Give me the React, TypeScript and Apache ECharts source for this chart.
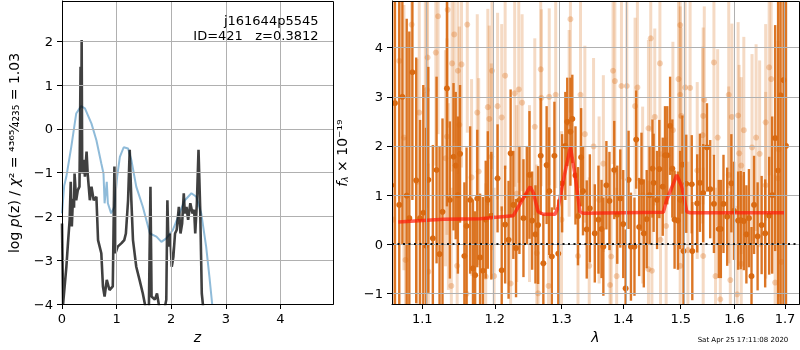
import React, { useEffect, useRef } from 'react';
import * as echarts from 'echarts';

// ---- Left panel: redshift PDF ----
const zTicks = [0, 1, 2, 3, 4];
const lnpTicks = [-4, -3, -2, -1, 0, 1, 2];

// chi2-based curve (light blue)  [z, value]
const chi2Curve = [
  [0, -1.93], [0.04, -1.3], [0.08, -1.09], [0.17, -0.41], [0.26, 0.35], [0.35, 0.52], [0.42, 0.47],
  [0.54, 0.12], [0.63, -0.26], [0.72, -0.79], [0.76, -1.02], [0.78, -1.7], [0.82, -1.21], [0.84, -1.7],
  [0.9, -1.93], [0.96, -1.78], [1.01, -1.09], [1.06, -0.64], [1.13, -0.42], [1.21, -0.45], [1.27, -0.71],
  [1.36, -1.32], [1.48, -1.78], [1.61, -2.39], [1.73, -2.46], [1.82, -2.58], [1.91, -2.5], [2.03, -2.31],
  [2.15, -1.93], [2.25, -1.63], [2.37, -1.47], [2.46, -1.55], [2.55, -1.93], [2.64, -2.69], [2.7, -3.38],
  [2.75, -4.0], [2.8, -4.8],
];

// log p(z) (dark grey)  [z, value]
const logPz = [
  [0, -2.16], [0.02, -4.0], [0.08, -3.15], [0.11, -2.6], [0.14, -2.08], [0.16, -1.21], [0.18, -2.23], [0.2, -1.6],
  [0.22, -1.8], [0.23, -1.02], [0.26, -1.63], [0.29, -1.4], [0.32, -1.32], [0.34, 1.42], [0.35, -0.9], [0.36, 2.03],
  [0.37, -1.02], [0.4, -0.71], [0.42, -1.09], [0.45, -0.52], [0.47, -1.02], [0.51, -1.63], [0.54, -1.32],
  [0.58, -1.63], [0.63, -1.55], [0.66, -2.54], [0.72, -2.84], [0.75, -3.6], [0.78, -3.83], [0.82, -3.45],
  [0.87, -3.68], [0.93, -3.6], [0.96, -0.86], [0.98, -2.84], [1.02, -2.69], [1.09, -2.61], [1.14, -2.54],
  [1.17, -2.39], [1.21, -1.63], [1.24, -0.48], [1.27, -1.63], [1.3, -2.54], [1.36, -3.15], [1.42, -3.45],
  [1.48, -3.76], [1.54, -4.14], [1.59, -4.2], [1.62, -1.32], [1.64, -3.83], [1.7, -3.9], [1.74, -3.76],
  [1.79, -4.14], [1.85, -4.3], [1.91, -3.9], [1.93, -1.63], [1.95, -2.69], [1.98, -2.39], [2.01, -3.15],
  [2.04, -2.92], [2.07, -2.39], [2.1, -2.31], [2.14, -1.78], [2.17, -2.39], [2.2, -2.16], [2.23, -1.47],
  [2.25, -1.93], [2.28, -1.78], [2.31, -2.08], [2.35, -1.7], [2.39, -1.93], [2.42, -1.85], [2.44, -2.39],
  [2.47, -1.7], [2.5, -0.48], [2.53, -1.78], [2.56, -3.76], [2.58, -4.0], [2.62, -5.0],
];

// ---- Right panel: spectrum ----
const lamTicks = [1.1, 1.2, 1.3, 1.4, 1.5, 1.6, 1.7];
const fluxTicks = [-1, 0, 1, 2, 3, 4];

// dark points [lambda, flux, err]
const specDark = [
  [1.06, 1.2, 6.0], [1.0645, 2.87, 4.5], [1.07, 0.8, 5.5], [1.074, 3.0, 3.0], [1.0796, 0.99, 3.6],
  [1.083, 0.53, 3.8], [1.087, 3.5, 2.6], [1.092, 1.3, 2.5], [1.097, 0.53, 2.0], [1.1013, 0.64, 2.6],
  [1.105, -0.03, 2.4], [1.108, 1.31, 2.3], [1.114, 0.12, 1.9], [1.119, 1.51, 1.9], [1.123, -0.2, 2.2],
  [1.127, 0.66, 1.9], [1.133, 3.17, 2.4], [1.137, 0.9, 1.6], [1.142, 1.78, 1.5], [1.145, 1.6, 1.5],
  [1.148, 1.0, 1.6], [1.151, 1.84, 1.4], [1.157, -0.24, 1.5], [1.16, 0.37, 1.6], [1.165, 0.9, 1.5],
  [1.169, -0.49, 1.4], [1.172, -0.63, 1.3], [1.175, 0.93, 1.4], [1.179, -0.27, 1.3], [1.183, -0.54, 1.5],
  [1.187, 0.5, 1.2], [1.19, 0.9, 1.4], [1.195, 0.58, 1.3], [1.204, 1.34, 1.1], [1.21, -0.53, 1.3],
  [1.215, 0.4, 1.2], [1.22, 0.09, 1.2], [1.223, 1.85, 1.3], [1.227, 0.8, 1.1], [1.231, -0.08, 1.0],
  [1.236, 0.9, 1.1], [1.242, 0.53, 1.2], [1.247, 1.0, 1.0], [1.251, 1.41, 1.3], [1.255, 0.48, 1.0],
  [1.26, 0.2, 1.0], [1.264, 0.39, 1.2], [1.268, 1.8, 1.2], [1.272, -0.39, 1.0], [1.277, 1.61, 1.2],
  [1.281, 1.08, 1.3], [1.285, -0.25, 1.0], [1.289, 1.8, 1.1], [1.295, -0.19, 1.1], [1.301, 1.24, 1.0],
  [1.306, 2.0, 1.1], [1.309, 2.49, 0.9], [1.314, 2.29, 1.1], [1.317, 2.55, 0.9], [1.322, 1.4, 1.0],
  [1.326, 0.57, 1.0], [1.331, 1.77, 1.0], [1.334, 1.08, 0.9], [1.34, 0.3, 1.0], [1.345, 0.73, 1.1],
  [1.353, 0.22, 1.0], [1.359, 0.5, 1.1], [1.364, 0.31, 1.0], [1.367, -0.05, 1.0], [1.372, 1.2, 0.9],
  [1.377, 0.88, 1.0], [1.385, 1.51, 1.0], [1.39, 0.6, 1.0], [1.395, 0.93, 1.0], [1.4, 0.41, 1.1],
  [1.404, -0.9, 1.2], [1.409, 1.31, 1.0], [1.413, -0.05, 1.1], [1.419, -0.05, 1.0], [1.422, 2.13, 1.0],
  [1.427, 0.35, 1.0], [1.431, 1.27, 1.0], [1.435, 0.22, 1.1], [1.44, 0.51, 1.0], [1.445, 1.0, 1.0],
  [1.45, 1.54, 1.0], [1.452, 1.25, 1.0], [1.458, 0.9, 1.0], [1.462, 1.53, 1.0], [1.468, 1.17, 1.0],
  [1.472, 1.81, 1.0], [1.476, 1.81, 1.0], [1.481, 2.41, 1.0], [1.485, 1.54, 1.0], [1.489, 0.5, 1.0],
  [1.495, 0.48, 1.0], [1.499, 0.9, 1.0], [1.503, 1.62, 1.0], [1.505, -0.14, 1.1], [1.51, 1.23, 1.0],
  [1.52, 1.22, 1.0], [1.521, -0.14, 1.0], [1.53, 0.83, 1.0], [1.535, 1.25, 1.0], [1.541, 1.04, 1.0],
  [1.548, 1.97, 0.9], [1.554, 1.12, 1.0], [1.561, 0.82, 1.0], [1.57, 0.31, 1.0], [1.574, 0.31, 1.0],
  [1.579, 0.82, 1.0], [1.586, 0.56, 1.0], [1.594, 1.24, 1.0], [1.599, 0.68, 1.0], [1.607, 0.48, 1.0],
  [1.612, 0.49, 1.0], [1.618, 0.47, 1.0], [1.623, 0.2, 1.0], [1.628, 0.53, 1.0], [1.633, -0.65, 1.0],
  [1.638, 0.8, 1.0], [1.645, 0.16, 1.1], [1.653, 0.39, 1.0], [1.66, 0.22, 1.1], [1.668, 0.58, 1.2],
  [1.674, 1.0, 1.6], [1.68, 2.16, 2.3], [1.686, 1.5, 4.0], [1.691, 3.03, 5.0], [1.697, 3.34, 6.0],
  [1.702, 2.0, 7.0],
];

// faint points [lambda, flux, err]
const specLight = [
  [1.062, 0.5, 5.0], [1.07, 3.73, 2.8], [1.076, 2.17, 2.7], [1.078, -0.32, 2.5], [1.086, 4.47, 2.5],
  [1.093, 1.27, 2.5], [1.096, 2.68, 2.6], [1.104, 3.04, 2.4], [1.106, 3.14, 2.4], [1.107, 3.8, 2.2],
  [1.108, -0.56, 2.2], [1.118, 3.9, 2.3], [1.121, 4.64, 2.4], [1.131, 1.75, 2.2], [1.133, 2.19, 2.0],
  [1.134, 4.77, 2.4], [1.135, 0.97, 1.9], [1.139, -0.85, 2.0], [1.14, 3.68, 2.2], [1.143, 4.27, 2.2],
  [1.147, -0.44, 2.0], [1.148, 3.53, 2.1], [1.15, 2.43, 2.0], [1.153, 3.66, 2.1], [1.16, -1.01, 1.9],
  [1.161, 4.47, 2.2], [1.167, 1.36, 2.0], [1.175, 2.68, 2.0], [1.177, 1.48, 1.9], [1.187, -0.66, 1.9],
  [1.19, 2.79, 2.0], [1.192, 2.55, 1.9], [1.195, 1.78, 1.9], [1.196, 3.53, 2.0], [1.199, -0.65, 1.8],
  [1.204, 2.81, 1.9], [1.21, 2.58, 1.9], [1.215, 3.43, 1.9], [1.223, -0.8, 1.8], [1.229, 3.07, 1.9],
  [1.232, 1.03, 1.8], [1.235, 3.15, 1.9], [1.24, 2.88, 1.8], [1.251, 1.03, 1.8], [1.259, 2.39, 1.8],
  [1.262, -0.18, 1.8], [1.264, -1.0, 1.8], [1.268, 3.56, 1.9], [1.269, 2.98, 1.8], [1.28, -0.85, 1.8],
  [1.281, 3.0, 1.8], [1.291, 3.04, 1.9], [1.3, 0.5, 1.8], [1.312, 2.46, 1.9], [1.314, 4.58, 1.9],
  [1.326, -0.24, 1.8], [1.33, 3.04, 1.9], [1.337, 2.24, 1.8], [1.344, -0.44, 1.8], [1.351, 1.99, 1.8],
  [1.36, 0.9, 1.7], [1.367, 1.64, 1.8], [1.378, -0.83, 1.8], [1.38, -0.25, 1.8], [1.383, 3.53, 1.9],
  [1.386, 3.32, 1.9], [1.389, -0.65, 1.8], [1.397, 3.22, 1.9], [1.406, 3.22, 1.9], [1.42, 2.81, 1.8],
  [1.424, 3.19, 1.9], [1.433, 1.0, 1.8], [1.443, 2.36, 1.8], [1.443, -0.51, 1.8], [1.447, 4.19, 1.9],
  [1.449, -0.54, 1.8], [1.454, 2.59, 1.8], [1.463, 3.68, 1.9], [1.464, 0.09, 1.8], [1.474, 0.37, 1.8],
  [1.486, 2.32, 1.8], [1.496, 3.36, 1.9], [1.499, 4.46, 1.9], [1.499, 3.04, 1.8], [1.499, -0.44, 1.8],
  [1.501, 2.61, 1.8], [1.508, 3.19, 1.9], [1.513, -0.12, 1.8], [1.517, 3.18, 1.9], [1.53, 1.5, 1.8],
  [1.54, 2.22, 1.8], [1.541, 2.61, 1.8], [1.541, -0.24, 1.8], [1.543, 2.94, 1.9], [1.561, 3.7, 1.9],
  [1.564, -0.65, 1.8], [1.568, 2.17, 1.8], [1.573, -1.12, 1.8], [1.589, 3.04, 1.9], [1.589, 1.41, 1.8],
  [1.592, -0.73, 1.8], [1.595, 2.59, 1.9], [1.605, -1.02, 1.8], [1.607, 2.62, 1.9], [1.609, 1.85, 1.8],
  [1.613, 1.6, 1.8], [1.613, -0.4, 1.8], [1.618, 2.32, 1.9], [1.634, 1.97, 1.9], [1.642, 2.17, 1.9],
  [1.649, 1.84, 1.9], [1.661, 2.48, 2.0], [1.661, 1.2, 1.9], [1.668, 3.6, 2.2], [1.672, 3.36, 2.4],
  [1.68, -0.78, 2.2], [1.686, 1.34, 2.8], [1.687, 1.93, 3.0], [1.693, -0.36, 3.4],
];

// best-fit model [lambda, flux]
const modelSpec = [
  [1.0688, 0.45], [1.128, 0.51], [1.179, 0.52], [1.227, 0.58], [1.239, 0.87], [1.252, 1.17],
  [1.257, 1.04], [1.264, 0.66], [1.272, 0.61], [1.29, 0.61], [1.295, 0.76], [1.303, 1.31],
  [1.314, 1.98], [1.321, 1.44], [1.329, 0.66], [1.334, 0.63], [1.469, 0.65], [1.475, 0.9],
  [1.493, 1.41], [1.502, 1.17], [1.511, 0.66], [1.517, 0.64], [1.7, 0.64],
];

const FONT = 'DejaVu Sans';
const ORANGE = '#d96a12';
const GRID = '#b0b0b0';
const fmtMinus = (v: number) => String(v).replace('-', '\u2212');

export default function App() {
  const ref = useRef<HTMLDivElement>(null);
  useEffect(() => {
    const chart = echarts.init(ref.current!, null, { renderer: 'svg' });
    const ln = (arr: number[][]) => arr.map(([l, ...rest]) => [Math.log(l), ...rest]);

    const errRender = (barWidth: number, barOpacity: number, dotOpacity: number) => (params: any, api: any) => {
      const x = api.value(0);
      const y = api.value(1);
      const e = api.value(2);
      const top = api.coord([x, y + e]);
      const bot = api.coord([x, y - e]);
      const c = api.coord([x, y]);
      return {
        type: 'group',
        children: [
          { type: 'line', shape: { x1: top[0], y1: top[1], x2: bot[0], y2: bot[1] }, style: { stroke: ORANGE, lineWidth: barWidth, opacity: barOpacity } },
          { type: 'circle', shape: { cx: c[0], cy: c[1], r: 3 }, style: { fill: ORANGE, opacity: dotOpacity } },
        ],
      };
    };

    const lamMin = Math.log(1.1) - 30.3 / 833.2;
    const lamMax = lamMin + 407 / 833.2;

    const axisCommon = {
      axisLine: { show: true, onZero: false, lineStyle: { color: '#000', width: 1 } },
      axisTick: { show: true, inside: false, length: 5, lineStyle: { color: '#000', width: 1 } },
      splitLine: { show: false },
    };

    const gridLine = { color: GRID, width: 1, type: 'solid' };

    const option: any = {
      animation: false,
      textStyle: { fontFamily: FONT },
      grid: [
        { left: 62, top: 1, width: 271, height: 303, outerBoundsMode: 'none' },
        { left: 392, top: 1, width: 407, height: 303, outerBoundsMode: 'none' },
      ],
      xAxis: [
        {
          gridIndex: 0, type: 'value', min: 0, max: 4.963, ...axisCommon,
          axisTick: { ...axisCommon.axisTick, customValues: zTicks },
          axisLabel: { customValues: zTicks, formatter: fmtMinus, color: '#000', fontSize: 13, margin: 8, fontFamily: FONT },
          name: 'z', nameLocation: 'middle', nameGap: 26,
          nameTextStyle: { fontStyle: 'italic', fontSize: 14, color: '#000', fontFamily: FONT },
        },
        {
          gridIndex: 1, type: 'value', min: lamMin, max: lamMax, ...axisCommon,
          axisTick: { ...axisCommon.axisTick, customValues: lamTicks.map(Math.log) },
          axisLabel: { customValues: lamTicks.map(Math.log), formatter: (v: number) => Math.exp(v).toFixed(1), color: '#000', fontSize: 13, margin: 8, fontFamily: FONT },
          name: 'λ', nameLocation: 'middle', nameGap: 26,
          nameTextStyle: { fontStyle: 'italic', fontSize: 14, color: '#000', fontFamily: FONT },
        },
      ],
      yAxis: [
        {
          gridIndex: 0, type: 'value', min: -4, max: 2.92, ...axisCommon,
          axisTick: { ...axisCommon.axisTick, customValues: lnpTicks },
          axisLabel: { customValues: lnpTicks, formatter: fmtMinus, color: '#000', fontSize: 13, margin: 9, fontFamily: FONT },
        },
        {
          gridIndex: 1, type: 'value', min: -1.217, max: 4.95, ...axisCommon,
          axisTick: { ...axisCommon.axisTick, customValues: fluxTicks },
          axisLabel: { customValues: fluxTicks, formatter: fmtMinus, color: '#000', fontSize: 13, margin: 9, fontFamily: FONT },
        },
      ],
      series: [
        {
          type: 'line', xAxisIndex: 0, yAxisIndex: 0, data: [], z: 1, silent: true,
          markLine: {
            silent: true, symbol: 'none', label: { show: false }, lineStyle: gridLine, animation: false,
            data: [...zTicks.slice(1).map((v) => ({ xAxis: v })), ...lnpTicks.slice(1).map((v) => ({ yAxis: v }))],
          },
        },
        {
          type: 'line', xAxisIndex: 1, yAxisIndex: 1, data: [], z: 1, silent: true,
          markLine: {
            silent: true, symbol: 'none', label: { show: false }, lineStyle: gridLine, animation: false,
            data: [...lamTicks.map((v) => ({ xAxis: Math.log(v) })), ...fluxTicks.map((v) => ({ yAxis: v }))],
          },
        },
        {
          type: 'line', xAxisIndex: 0, yAxisIndex: 0, data: chi2Curve, showSymbol: false, z: 2, silent: true,
          lineStyle: { color: '#1f77b4', width: 2, opacity: 0.5 }, clip: true,
        },
        {
          type: 'line', xAxisIndex: 0, yAxisIndex: 0, data: logPz, showSymbol: false, z: 3, silent: true,
          lineStyle: { color: '#000', width: 2.6, opacity: 0.75 }, clip: true,
        },
        {
          type: 'custom', xAxisIndex: 1, yAxisIndex: 1, data: ln(specLight), renderItem: errRender(3, 0.25, 0.3),
          clip: true, z: 2, silent: true, encode: { x: 0, y: 1 },
        },
        {
          type: 'custom', xAxisIndex: 1, yAxisIndex: 1, data: ln(specDark), renderItem: errRender(2.4, 0.92, 1),
          clip: true, z: 3, silent: true, encode: { x: 0, y: 1 },
        },
        {
          type: 'line', xAxisIndex: 1, yAxisIndex: 1, data: ln(modelSpec), showSymbol: false, z: 4, silent: true,
          lineStyle: { color: '#ff1a0a', width: 3.5, opacity: 0.7 }, clip: true,
          markLine: {
            silent: true, symbol: 'none', label: { show: false }, animation: false,
            lineStyle: { color: '#111', width: 2, type: [2, 3.5] },
            data: [{ yAxis: 0 }],
          },
        },
      ],
      graphic: [
        { type: 'rect', z: 100, shape: { x: 62.5, y: 1.5, width: 271, height: 303 }, style: { fill: 'none', stroke: '#000', lineWidth: 1 } },
        { type: 'rect', z: 100, shape: { x: 392.5, y: 1.5, width: 407, height: 303 }, style: { fill: 'none', stroke: '#000', lineWidth: 1 } },
        {
          type: 'text', z: 100, x: 318.5, y: 20,
          style: { text: 'j161644p5545', fontSize: 13, fontFamily: FONT, fill: '#000', align: 'right', verticalAlign: 'middle', textAlign: 'right', textVerticalAlign: 'middle' },
        },
        {
          type: 'text', z: 100, x: 318.5, y: 35,
          style: { text: 'ID=421   z=0.3812', fontSize: 13, fontFamily: FONT, fill: '#000', align: 'right', verticalAlign: 'middle', textAlign: 'right', textVerticalAlign: 'middle' },
        },
        {
          type: 'text', z: 100, x: 14, y: 153, rotation: Math.PI / 2,
          style: {
            text: '{r|log }{i|p}{r|(z) / }{i|χ}{r|² = ⁴³⁶⁵⁄₄₂₃₅ = 1.03}',
            fontSize: 14, fontFamily: FONT, fill: '#000',
            align: 'center', verticalAlign: 'middle', textAlign: 'center', textVerticalAlign: 'middle',
            rich: {
              r: { fontSize: 14, fontFamily: FONT, fill: '#000' },
              i: { fontSize: 14, fontFamily: FONT, fontStyle: 'italic', fill: '#000' },
            },
          },
        },
        {
          type: 'text', z: 100, x: 342, y: 153, rotation: Math.PI / 2,
          style: {
            text: '{i|f}{s|λ}{r| × 10⁻¹⁹}',
            fontSize: 14, fontFamily: FONT, fill: '#000',
            align: 'center', verticalAlign: 'middle', textAlign: 'center', textVerticalAlign: 'middle',
            rich: {
              r: { fontSize: 14, fontFamily: FONT, fill: '#000' },
              i: { fontSize: 14, fontFamily: FONT, fontStyle: 'italic', fill: '#000' },
              s: { fontSize: 9, fontFamily: FONT, fontStyle: 'italic', fill: '#000', padding: [6, 0, 0, 0] },
            },
          },
        },
        {
          type: 'text', z: 100, x: 743, y: 340,
          style: { text: 'Sat Apr 25 17:11:08 2020', fontSize: 7, fontFamily: FONT, fill: '#000', align: 'center', verticalAlign: 'middle', textAlign: 'center', textVerticalAlign: 'middle' },
        },
      ],
    };
    chart.setOption(option);
    return () => chart.dispose();
  }, []);
  return <div ref={ref} style={{ position: 'fixed', left: 0, top: 0, width: 800, height: 350 }} />;
}
